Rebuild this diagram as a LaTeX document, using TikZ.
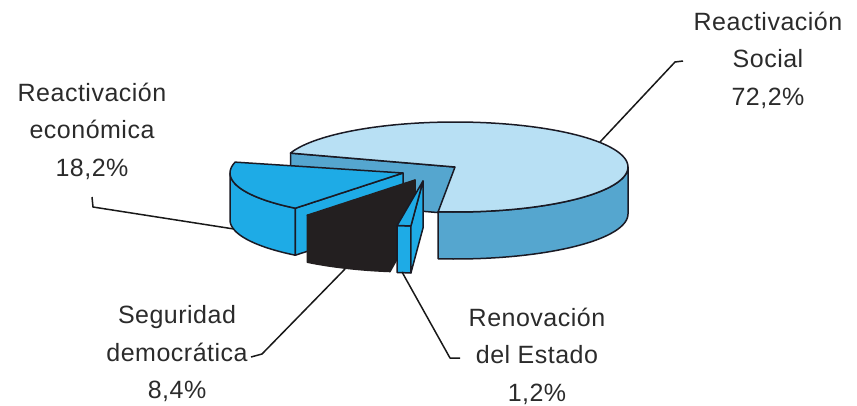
\documentclass[tikz,border=0pt]{standalone}
\usepackage{fontspec}
\newfontfamily\lbl[LetterSpace=2]{Liberation Sans}
\definecolor{topc}{HTML}{B8E0F4}
\definecolor{sidec}{HTML}{55A6CF}
\definecolor{brightc}{HTML}{1EABE6}
\definecolor{blackc}{HTML}{231F20}
\definecolor{edgec}{HTML}{1A1A24}
\definecolor{txtc}{HTML}{2B2B2B}
\begin{document}
\begin{tikzpicture}[x=1pt, y=-1pt, line join=round,
  face/.style={draw=edgec, line width=1.5pt},
  lead/.style={draw=black!90, line width=1.5pt},
  lab/.style={font=\lbl\fontsize{25}{37.5}\selectfont, text=txtc, align=center, inner sep=0pt}]
\useasboundingbox (0,0) rectangle (857,405);
% big slice: Reactivacion Social
\path[face, fill=sidec] (455,167) -- (290.5,153.1) -- (290.5,200.1) -- (455,214) -- cycle;
\path[face, fill=sidec] plot[domain=0:95.6, samples=40] ({455+173*cos(\x)},{167+45*sin(\x)})
  -- plot[domain=95.6:0, samples=40] ({455+173*cos(\x)},{214+45*sin(\x)}) -- cycle;
\path[face, fill=topc] (455,167) -- plot[domain=95.6:-162, samples=120] ({455+173*cos(\x)},{167+45*sin(\x)}) -- cycle;
% Reactivacion economica
\path[face, fill=brightc] plot[domain=128.5:180, samples=30] ({403+173*cos(\x)},{173+45*sin(\x)})
  -- plot[domain=180:128.5, samples=30] ({403+173*cos(\x)},{220+45*sin(\x)}) -- cycle;
\path[face, fill=brightc] (403,173) -- ({403+173*cos(128.5)},{173+45*sin(128.5)}) -- ++(0,47) -- (403,220) -- cycle;
\path[face, fill=brightc] (403,173) -- plot[domain=128.5:194, samples=40] ({403+173*cos(\x)},{173+45*sin(\x)}) -- cycle;
% Seguridad democratica
\path[face, fill=blackc, draw=blackc] plot[domain=98.3:128.5, samples=30] ({415+173*cos(\x)},{180+45*sin(\x)})
  -- plot[domain=128.5:98.3, samples=30] ({415+173*cos(\x)},{227+45*sin(\x)}) -- cycle;
\path[face, fill=blackc, draw=blackc] (415,180) -- ({415+173*cos(98.3)},{180+45*sin(98.3)}) -- ++(0,47) -- (415,227) -- cycle;
\path[face, fill=blackc, draw=blackc] (415,180) -- plot[domain=98.3:128.5, samples=30] ({415+173*cos(\x)},{180+45*sin(\x)}) -- cycle;
% Renovacion del Estado
\path[face, fill=brightc] plot[domain=94:98.6, samples=10] ({423+173*cos(\x)},{181+45*sin(\x)})
  -- plot[domain=98.6:94, samples=10] ({423+173*cos(\x)},{228+45*sin(\x)}) -- cycle;
\path[face, fill=brightc] (423,181) -- ({423+173*cos(94)},{181+45*sin(94)}) -- ++(0,47) -- (423,228) -- cycle;
\path[face, fill=brightc] (423,181) -- plot[domain=94:98.6, samples=10] ({423+173*cos(\x)},{181+45*sin(\x)}) -- cycle;
% labels
\node[lab] (soc) at (768,60) {Reactivación\\Social\\72,2\%};
\node[lab] (eco) at (92,131) {Reactivación\\económica\\18,2\%};
\node[lab] (seg) at (177,354) {Seguridad\\democrática\\8,4\%};
\node[lab] (ren) at (537,356) {Renovación\\del Estado\\1,2\%};
% leader lines
\coordinate (socL) at (683,61); \coordinate (socK) at (675,62); \coordinate (socP) at (600,142);
\coordinate (ecoL) at (92,197); \coordinate (ecoK) at (93,207); \coordinate (ecoP) at (234,229);
\coordinate (segL) at (251,357); \coordinate (segK) at (262,354); \coordinate (segP) at (345,269);
\coordinate (renL) at (460,358); \coordinate (renK) at (450,358); \coordinate (renP) at (402,272);
\draw[lead] (socL) -- (socK) -- (socP);
\draw[lead] (ecoL) -- (ecoK) -- (ecoP);
\draw[lead] (segL) -- (segK) -- (segP);
\draw[lead] (renL) -- (renK) -- (renP);
\end{tikzpicture}
\end{document}
